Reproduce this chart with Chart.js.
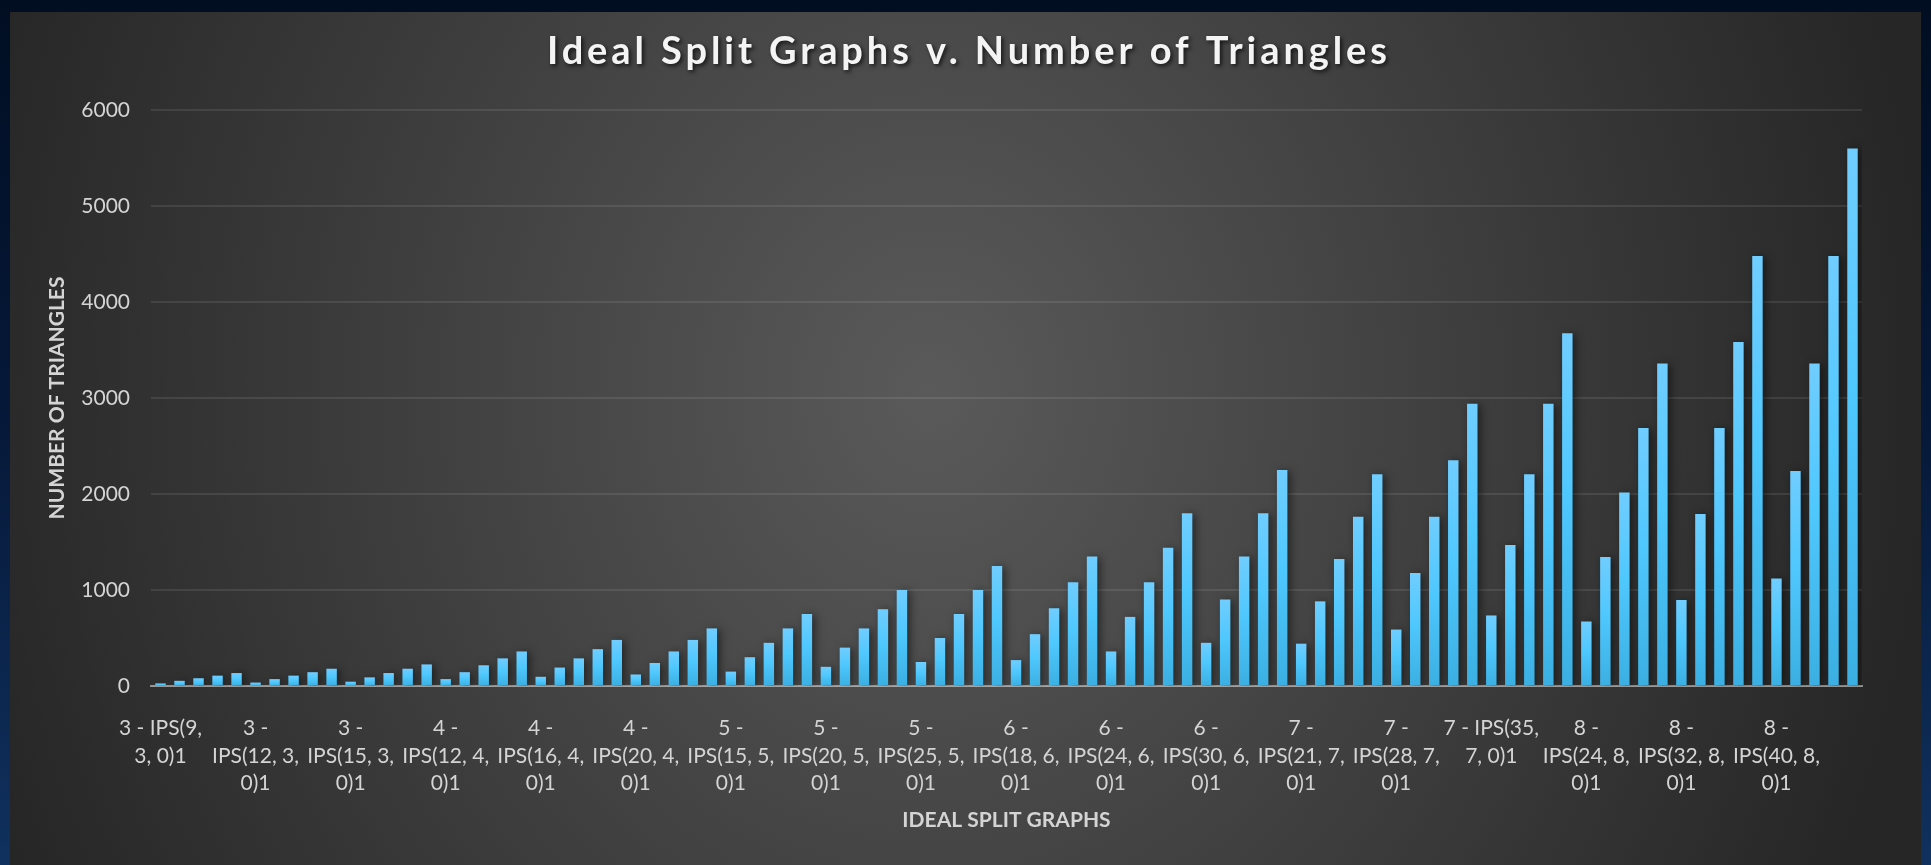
<!DOCTYPE html>
<html>
<head>
<meta charset="utf-8">
<script src="https://cdn.jsdelivr.net/npm/chart.js@4.4.1/dist/chart.umd.min.js"></script>
<style>
  html, body { margin: 0; padding: 0; width: 1931px; height: 865px; overflow: hidden;
    background: linear-gradient(to bottom, #010e22 0%, #06193a 50%, #10315e 100%); }
  #panel { position: absolute; left: 10px; top: 12px; width: 1911px; height: 853px;
    background: radial-gradient(ellipse 1000px 1150px at 920px 380px, #5a5a5a 0%, #262626 100%); }
  #wrap { position: absolute; left: 0; top: 0; width: 1931px; height: 865px; }
</style>
</head>
<body>
<div id="panel"></div>
<div id="wrap"><canvas id="c" width="1931" height="865"></canvas></div>
<script>
// ---- Data ----
const chartTitle = "Ideal Split Graphs v. Number of Triangles";
const xAxisTitle = "IDEAL SPLIT GRAPHS";
const yAxisTitle = "NUMBER OF TRIANGLES";

const groupNames = [
  "3 - IPS(9, 3, 0)", "3 - IPS(12, 3, 0)", "3 - IPS(15, 3, 0)",
  "4 - IPS(12, 4, 0)", "4 - IPS(16, 4, 0)", "4 - IPS(20, 4, 0)",
  "5 - IPS(15, 5, 0)", "5 - IPS(20, 5, 0)", "5 - IPS(25, 5, 0)",
  "6 - IPS(18, 6, 0)", "6 - IPS(24, 6, 0)", "6 - IPS(30, 6, 0)",
  "7 - IPS(21, 7, 0)", "7 - IPS(28, 7, 0)", "7 - IPS(35, 7, 0)",
  "8 - IPS(24, 8, 0)", "8 - IPS(32, 8, 0)", "8 - IPS(40, 8, 0)"
];
const variants = ["1", "2", "3", "4", "5"];

// Tick labels as they are wrapped in the picture (shown for the first bar of each group)
const tickLines = [
  ["3 - IPS(9,", "3, 0)1"], ["3 -", "IPS(12, 3,", "0)1"], ["3 -", "IPS(15, 3,", "0)1"],
  ["4 -", "IPS(12, 4,", "0)1"], ["4 -", "IPS(16, 4,", "0)1"], ["4 -", "IPS(20, 4,", "0)1"],
  ["5 -", "IPS(15, 5,", "0)1"], ["5 -", "IPS(20, 5,", "0)1"], ["5 -", "IPS(25, 5,", "0)1"],
  ["6 -", "IPS(18, 6,", "0)1"], ["6 -", "IPS(24, 6,", "0)1"], ["6 -", "IPS(30, 6,", "0)1"],
  ["7 -", "IPS(21, 7,", "0)1"], ["7 -", "IPS(28, 7,", "0)1"], ["7 - IPS(35,", "7, 0)1"],
  ["8 -", "IPS(24, 8,", "0)1"], ["8 -", "IPS(32, 8,", "0)1"], ["8 -", "IPS(40, 8,", "0)1"]
];

const triangles = [
    27,   54,   81,  108,  135,
    36,   72,  108,  144,  180,
    45,   90,  135,  180,  225,
    72,  144,  216,  288,  360,
    96,  192,  288,  384,  480,
   120,  240,  360,  480,  600,
   150,  300,  450,  600,  750,
   200,  400,  600,  800, 1000,
   250,  500,  750, 1000, 1250,
   270,  540,  810, 1080, 1350,
   360,  720, 1080, 1440, 1800,
   450,  900, 1350, 1800, 2250,
   441,  882, 1323, 1764, 2205,
   588, 1176, 1764, 2352, 2940,
   735, 1470, 2205, 2940, 3675,
   672, 1344, 2016, 2688, 3360,
   896, 1792, 2688, 3584, 4480,
  1120, 2240, 3360, 4480, 5600
];

const yTicks = [0, 1000, 2000, 3000, 4000, 5000, 6000];
const yTickLabels = ["0", "1000", "2000", "3000", "4000", "5000", "6000"];

// categories built from the group names and variant suffixes
const categories = [];
groupNames.forEach(g => variants.forEach(v => categories.push(g + v)));

// ---- Styling ----
const FONT = "Lato, 'Open Sans', 'DejaVu Sans', sans-serif";
const textColor = "#d4d4d4";

const barShadow = {
  id: 'barShadow',
  beforeDatasetsDraw(chart) {
    const ctx = chart.ctx;
    ctx.save();
    ctx.shadowColor = 'rgba(0,0,0,0.5)';
    ctx.shadowBlur = 8;
    ctx.shadowOffsetX = 3;
    ctx.shadowOffsetY = 1;
  },
  afterDatasetsDraw(chart) { chart.ctx.restore(); }
};

const titlePlugin = {
  id: 'customTitle',
  afterDraw(chart) {
    const ctx = chart.ctx;
    ctx.save();
    ctx.font = "bold 38px " + FONT;
    ctx.letterSpacing = '0px';
    const w0 = ctx.measureText(chartTitle).width;
    const target = 844;
    const ls = (target - w0) / chartTitle.length;
    ctx.letterSpacing = ls.toFixed(2) + 'px';
    ctx.textAlign = 'center';
    ctx.textBaseline = 'alphabetic';
    ctx.fillStyle = '#f4f4f4';
    ctx.shadowColor = 'rgba(0,0,0,0.7)';
    ctx.shadowBlur = 4;
    ctx.shadowOffsetX = 2;
    ctx.shadowOffsetY = 2;
    ctx.fillText(chartTitle, 967 + ls / 2, 64);
    ctx.restore();
  }
};

function barGradient(c) {
  const chart = c.chart;
  const { ctx, chartArea, scales } = chart;
  if (!chartArea || c.type !== 'data') return '#4cc6fb';
  const top = scales.y.getPixelForValue(c.raw);
  const base = scales.y.getPixelForValue(0);
  const g = ctx.createLinearGradient(0, top, 0, base);
  g.addColorStop(0, '#70cdff');
  g.addColorStop(0.45, '#4fc8fe');
  g.addColorStop(1, '#3bafe2');
  return g;
}

new Chart(document.getElementById('c'), {
  type: 'bar',
  data: {
    labels: categories,
    datasets: [{
      label: 'Number of Triangles',
      data: triangles,
      backgroundColor: barGradient,
      borderWidth: 0,
      categoryPercentage: 1.0,
      barPercentage: 0.55
    }]
  },
  options: {
    responsive: false,
    animation: false,
    layout: { padding: { left: 41, right: 69, top: 110, bottom: 28 } },
    plugins: {
      legend: { display: false },
      title: { display: false },
      tooltip: { enabled: false }
    },
    scales: {
      x: {
        z: 1,
        grid: { display: false, drawTicks: false },
        border: { display: true, color: 'rgba(255,255,255,0.45)', width: 2 },
        ticks: {
          autoSkip: false,
          maxRotation: 0,
          minRotation: 0,
          padding: 29,
          color: textColor,
          font: { family: FONT, size: 21, lineHeight: 1.3 },
          callback: (v, i) => (i % variants.length === 0 ? tickLines[i / variants.length] : '')
        },
        title: {
          display: true,
          text: xAxisTitle,
          color: textColor,
          font: { family: FONT, size: 21, weight: 'bold', lineHeight: 1.2 },
          padding: { top: 4, bottom: 4 }
        },
        afterFit(scale) { scale.height = 151; }
      },
      y: {
        min: yTicks[0],
        max: yTicks[yTicks.length - 1],
        afterBuildTicks(scale) { scale.ticks = yTicks.map(v => ({ value: v })); },
        grid: { color: 'rgba(255,255,255,0.09)', lineWidth: 2, drawTicks: false },
        border: { display: false },
        ticks: {
          padding: 21,
          color: textColor,
          font: { family: FONT, size: 21 },
          callback: (v) => yTickLabels[yTicks.indexOf(v)]
        },
        title: {
          display: true,
          text: yAxisTitle,
          color: textColor,
          font: { family: FONT, size: 21, weight: 'bold', lineHeight: 1.2 },
          padding: { top: 4, bottom: 4 }
        },
        afterFit(scale) { scale.width = 110; }
      }
    }
  },
  plugins: [barShadow, titlePlugin]
});
</script>
</body>
</html>
